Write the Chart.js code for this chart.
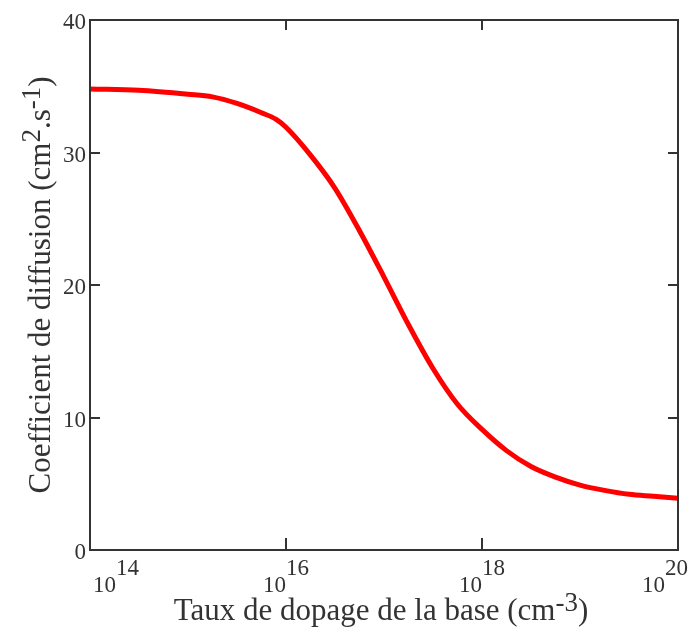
<!DOCTYPE html>
<html>
<head>
<meta charset="utf-8">
<script src="https://cdn.jsdelivr.net/npm/chart.js@4.4.1/dist/chart.umd.min.js"></script>
<style>
  html, body { margin: 0; padding: 0; background: #fff; }
  canvas { display: block; }
</style>
</head>
<body>
<canvas id="chartDiffusion" width="692" height="628"></canvas>
<script>
// ── DONNÉES ─────────────────────────────────────────────────────
// exposant du dopage (10^x cm-3) et coefficient de diffusion
const dopageExp   = [14, 14.5, 15, 15.25, 15.5, 15.75, 15.9, 16, 16.25, 16.5, 16.75, 17, 17.25, 17.5, 17.75, 18, 18.25, 18.5, 18.75, 19, 19.25, 19.5, 19.75, 20]
const coefDiff    = [34.8, 34.7, 34.4, 34.2, 33.7, 33.0, 32.5, 31.9, 29.8, 27.3, 24.1, 20.6, 17.0, 13.7, 11.0, 9.1, 7.5, 6.3, 5.5, 4.9, 4.5, 4.2, 4.05, 3.9]
const xTickExp    = [14, 16, 18, 20]
const yTicks      = [0, 10, 20, 30, 40]

const POLICE  = '"Liberation Serif", "Times New Roman", serif'
const COULEUR = '#333333'

// ── CADRE, GRADUATIONS INTÉRIEURES ET ÉTIQUETTES ────────────────
const cadrePlugin = {
    id: 'cadre',
    afterDraw(chart) {
        const { ctx, chartArea: a, scales: { x, y } } = chart
        ctx.save()
        ctx.strokeStyle = COULEUR
        ctx.lineWidth = 2
        ctx.strokeRect(a.left, a.top, a.right - a.left, a.bottom - a.top)

        // graduations vers l'intérieur
        ctx.beginPath()
        yTicks.slice(1, -1).forEach(v => {
            const py = Math.round(y.getPixelForValue(v))
            ctx.moveTo(a.left, py);  ctx.lineTo(a.left + 10, py)
            ctx.moveTo(a.right, py); ctx.lineTo(a.right - 10, py)
        })
        xTickExp.slice(1, -1).forEach(e => {
            const px = Math.round(x.getPixelForValue(Math.pow(10, e)))
            ctx.moveTo(px, a.bottom); ctx.lineTo(px, a.bottom - 12)
            ctx.moveTo(px, a.top);    ctx.lineTo(px, a.top + 10)
        })
        ctx.stroke()

        // étiquettes 10^n de l'axe x
        ctx.fillStyle = COULEUR
        ctx.font = '23px ' + POLICE
        xTickExp.forEach((e, i) => {
            const px = x.getPixelForValue(Math.pow(10, e))
            const wBase = ctx.measureText('10').width
            const total = wBase + ctx.measureText(String(e)).width
            let gauche = px - total / 2
            if (i === 0) gauche = px + 3
            if (i === xTickExp.length - 1) gauche = px + 10 - total
            ctx.textAlign = 'left'
            ctx.textBaseline = 'alphabetic'
            ctx.fillText('10', gauche, a.bottom + 42)
            ctx.fillText(String(e), gauche + wBase, a.bottom + 25)
        })

        // titre de l'axe x
        const morceauxX = [['Taux de dopage de la base (cm', 0], ['-3', -9], [')', 0]]
        dessinerMorceaux(ctx, morceauxX, 381, 620)

        // titre de l'axe y (vertical)
        ctx.translate(50, 285)
        ctx.rotate(-Math.PI / 2)
        const morceauxY = [['Coefficient de diffusion (cm', 0], ['2', -10], ['.s', 0], ['-1', -10], [')', 0]]
        dessinerMorceaux(ctx, morceauxY, 0, 0)
        ctx.restore()
    }
}

/** Écrit une suite de morceaux centrés sur cx; décalage non nul = exposant */
function dessinerMorceaux(ctx, morceaux, cx, base) {
    const police = m => (m[1] ? '27px ' : '31px ') + POLICE
    const largeurs = morceaux.map(m => { ctx.font = police(m); return ctx.measureText(m[0]).width })
    let px = cx - largeurs.reduce((s, w) => s + w, 0) / 2
    ctx.textAlign = 'left'
    ctx.textBaseline = 'alphabetic'
    morceaux.forEach((m, i) => {
        ctx.font = police(m)
        ctx.fillText(m[0], px, base + m[1])
        px += largeurs[i]
    })
}

new Chart(document.getElementById('chartDiffusion').getContext('2d'), {
    type: 'line',
    data: {
        datasets: [{
            data: dopageExp.map((e, i) => ({ x: Math.pow(10, e), y: coefDiff[i] })),
            borderColor: '#ff0000',
            borderWidth: 5,
            pointRadius: 0,
            cubicInterpolationMode: 'monotone',
            fill: false
        }]
    },
    options: {
        responsive: false,
        animation: false,
        layout: { padding: { left: 0, top: 20, right: 14, bottom: 0 } },
        plugins: { legend: { display: false }, tooltip: { enabled: false } },
        scales: {
            x: {
                type: 'logarithmic',
                min: 1e14,
                max: 1e20,
                afterBuildTicks: s => { s.ticks = xTickExp.map(e => ({ value: Math.pow(10, e) })) },
                afterFit: s => { s.height = 78 },
                grid: { display: false, drawTicks: false },
                border: { display: false },
                ticks: { display: false }
            },
            y: {
                min: 0,
                max: 40,
                afterBuildTicks: s => { s.ticks = yTicks.map(v => ({ value: v })) },
                afterFit: s => { s.width = 90 },
                grid: { display: false, drawTicks: false },
                border: { display: false },
                ticks: {
                    padding: 4,
                    labelOffset: 3,
                    color: COULEUR,
                    font: { family: POLICE, size: 23 }
                }
            }
        }
    },
    plugins: [cadrePlugin]
})
</script>
</body>
</html>
